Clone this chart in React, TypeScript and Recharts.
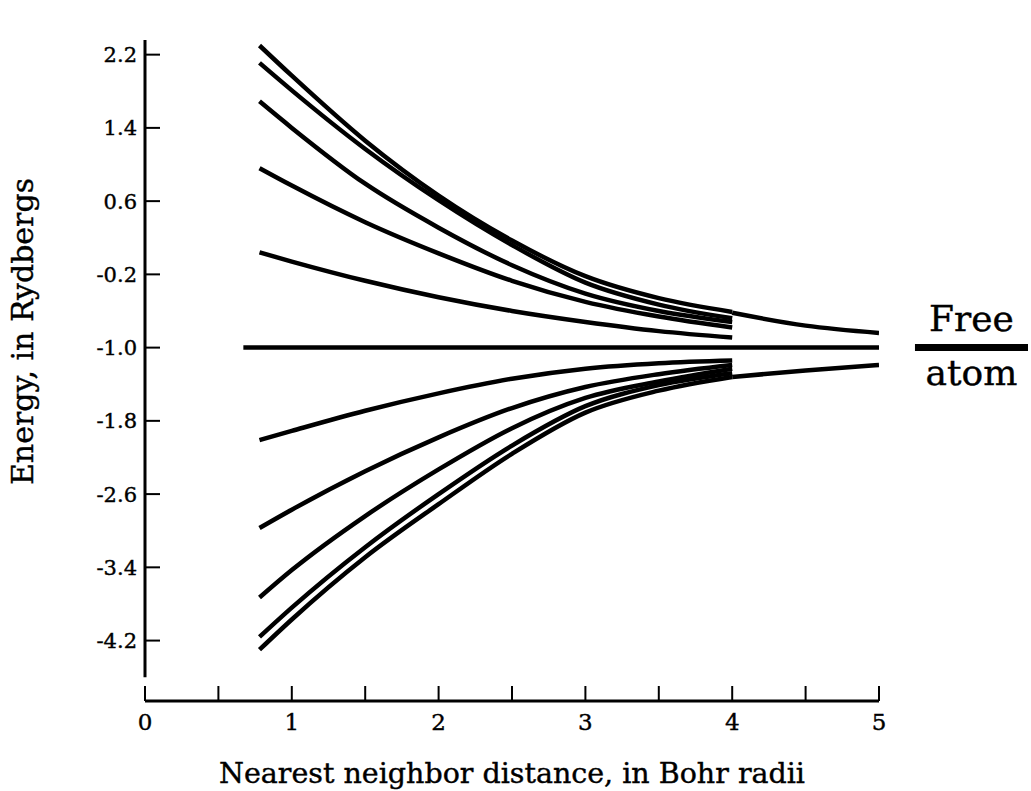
import { LineChart, Line, XAxis, YAxis, ReferenceLine, Label } from 'recharts'

const xs = [0.78, 1, 1.5, 2, 2.5, 3, 3.5, 4]

// upper bands (Rydbergs)
const upper1 = [2.3, 1.97, 1.26, 0.66, 0.17, -0.22, -0.46, -0.61]
const upper2 = [2.11, 1.81, 1.17, 0.61, 0.12, -0.29, -0.53, -0.68]
const upper3 = [1.69, 1.4, 0.79, 0.31, -0.1, -0.41, -0.6, -0.72]
const upper4 = [0.96, 0.77, 0.37, 0.03, -0.27, -0.5, -0.66, -0.78]
const upper5 = [0.04, -0.06, -0.27, -0.45, -0.6, -0.72, -0.82, -0.89]

// lower bands
const lower1 = [-2.01, -1.91, -1.69, -1.5, -1.34, -1.23, -1.17, -1.14]
const lower2 = [-2.97, -2.77, -2.35, -1.98, -1.66, -1.43, -1.29, -1.19]
const lower3 = [-3.73, -3.43, -2.84, -2.33, -1.88, -1.55, -1.37, -1.23]
const lower4 = [-4.16, -3.84, -3.18, -2.6, -2.07, -1.64, -1.41, -1.28]
const lower5 = [-4.3, -3.97, -3.29, -2.71, -2.16, -1.71, -1.47, -1.32]

// outer envelope continued out to 5
const tailX = [4, 4.5, 5]
const upperTail = [-0.62, -0.76, -0.84]
const lowerTail = [-1.32, -1.25, -1.19]

// flat level through the middle
const midX = [0.67, 5]
const mid = [-1, -1]

const xTicks = [0, 0.5, 1, 1.5, 2, 2.5, 3, 3.5, 4, 4.5, 5]
const yTicks = [2.2, 1.4, 0.6, -0.2, -1.0, -1.8, -2.6, -3.4, -4.2]

const toPoints = (x: number[], y: number[]) => x.map((v, i) => ({ x: v, y: y[i] }))

const curves = [
  toPoints(xs, upper1),
  toPoints(xs, upper2),
  toPoints(xs, upper3),
  toPoints(xs, upper4),
  toPoints(xs, upper5),
  toPoints(xs, lower1),
  toPoints(xs, lower2),
  toPoints(xs, lower3),
  toPoints(xs, lower4),
  toPoints(xs, lower5),
  toPoints(tailX, upperTail),
  toPoints(tailX, lowerTail),
  toPoints(midX, mid),
]

const FONT = '"DejaVu Serif", serif'
const INK = '#000'
// slight outline to get closer to the heavy book typeface
const textStyle = { fill: INK, stroke: INK, strokeWidth: 0.4, fontFamily: FONT }

function YTitle(props: any) {
  const { viewBox } = props
  const x = viewBox.x + 22
  const y = viewBox.y + viewBox.height / 2 - 39
  return (
    <text
      x={x}
      y={y}
      transform={`rotate(-90, ${x}, ${y})`}
      textAnchor="middle"
      dominantBaseline="central"
      fontSize={30}
      {...textStyle}
    >
      Energy, in Rydbergs
    </text>
  )
}

export default function App() {
  return (
    <div style={{ position: 'absolute', left: 0, top: 0, background: '#fff' }}>
      <LineChart width={1031} height={791} margin={{ top: 40, right: 152, bottom: 0, left: 0 }}>
        <XAxis
          dataKey="x"
          type="number"
          domain={[0, 5]}
          allowDataOverflow
          ticks={xTicks}
          interval={0}
          tickFormatter={(v: number) => (Number.isInteger(v) ? String(v) : '')}
          height={90}
          tickSize={-15}
          tickMargin={28}
          axisLine={{ stroke: INK, strokeWidth: 3 }}
          tickLine={{ stroke: INK, strokeWidth: 2 }}
          tick={{ ...textStyle, fontSize: 23 }}
        >
          <Label
            value="Nearest neighbor distance, in Bohr radii"
            position="insideBottom"
            offset={8}
            style={{ ...textStyle, fontSize: 28.5 }}
          />
        </XAxis>
        <YAxis
          dataKey="y"
          type="number"
          domain={[-4.86, 2.36]}
          allowDataOverflow
          ticks={yTicks}
          interval={0}
          tickFormatter={(v: number) => v.toFixed(1)}
          width={145}
          tickSize={-15}
          tickMargin={23}
          axisLine={false}
          tickLine={{ stroke: INK, strokeWidth: 2 }}
          tick={{ ...textStyle, fontSize: 21 }}
          label={{ content: <YTitle /> }}
        />
        {/* y axis line stops short of the x axis */}
        <ReferenceLine
          segment={[{ x: 0, y: -4.6 }, { x: 0, y: 2.36 }]}
          stroke={INK}
          strokeWidth={3}
          ifOverflow="visible"
        />
        {curves.map((pts, i) => (
          <Line
            key={i}
            data={pts}
            dataKey="y"
            type="monotone"
            stroke={INK}
            strokeWidth={4.5}
            dot={false}
            activeDot={false}
            isAnimationActive={false}
          />
        ))}
        {/* free atom level */}
        <ReferenceLine
          segment={[{ x: 5.245, y: -1 }, { x: 6.015, y: -1 }]}
          stroke={INK}
          strokeWidth={7}
          ifOverflow="visible"
        >
          <Label value="Free" position="top" offset={17} style={{ ...textStyle, fontSize: 36 }} />
          <Label value="atom" position="bottom" offset={12} style={{ ...textStyle, fontSize: 36 }} />
        </ReferenceLine>
      </LineChart>
    </div>
  )
}
